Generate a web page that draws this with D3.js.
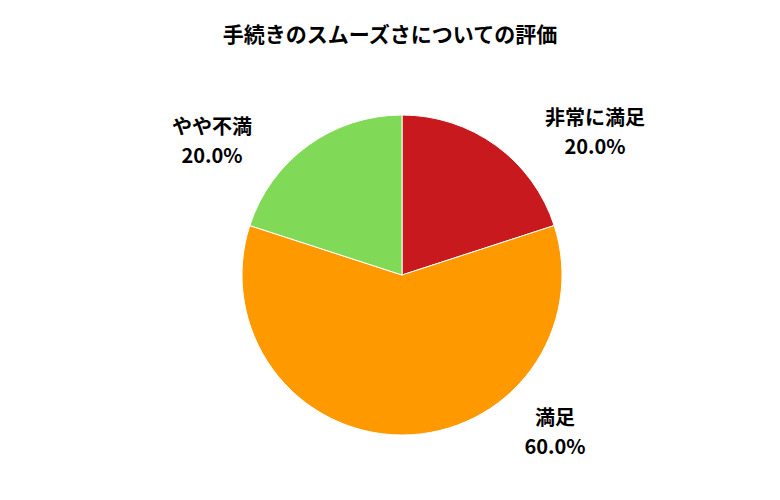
<!DOCTYPE html>
<html><head><meta charset="utf-8">
<script src="https://cdn.jsdelivr.net/npm/d3@7"></script>
<style>body{margin:0;background:#fff}</style></head>
<body><svg id="c" width="780" height="500"></svg>
<script>
const categories=["非常に満足","満足","やや不満"];
const values=[20,60,20];
const colors=["#C8191E","#FF9900","#80D957"];
const labelPos=[[595,118],[555,418],[212,127]];
const svg=d3.select("#c");
const font="'Noto Sans CJK JP','Noto Sans',sans-serif";
svg.append("text").attr("x",390).attr("y",42).attr("text-anchor","middle")
 .attr("font-family",font).attr("font-weight","bold").attr("font-size",21).text("手続きのスムーズさについての評価");
const pie=d3.pie().sort(null)(values);
const arc=d3.arc().innerRadius(0).outerRadius(160);
const g=svg.append("g").attr("transform","translate(402,275)");
g.selectAll("path").data(pie).join("path").attr("d",arc).attr("fill",(d,i)=>colors[i]).attr("stroke","#fff").attr("stroke-width",1);
const total=d3.sum(values);
categories.forEach((c,i)=>{
 const t=svg.append("text").attr("text-anchor","middle").attr("font-family",font).attr("font-weight","bold").attr("font-size",20);
 t.append("tspan").attr("x",labelPos[i][0]).attr("y",labelPos[i][1]+7).text(c);
 t.append("tspan").attr("x",labelPos[i][0]).attr("y",labelPos[i][1]+36).text((values[i]/total*100).toFixed(1)+"%");
});
</script></body></html>
